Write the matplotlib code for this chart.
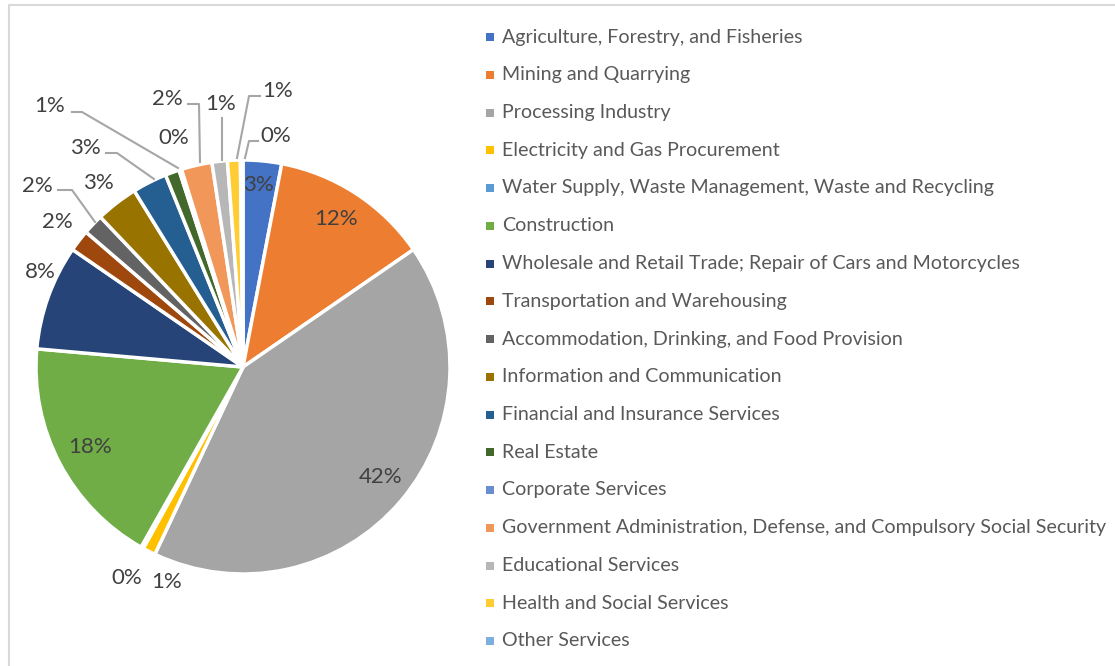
import matplotlib
matplotlib.use("Agg")
import matplotlib.pyplot as plt
from matplotlib.patches import Rectangle

plt.rcParams['font.family'] = ['Lato', 'DejaVu Sans']

# data
sectors = [
    "Agriculture, Forestry, and Fisheries",
    "Mining and Quarrying",
    "Processing Industry",
    "Electricity and Gas Procurement",
    "Water Supply, Waste Management, Waste and Recycling",
    "Construction",
    "Wholesale and Retail Trade; Repair of Cars and Motorcycles",
    "Transportation and Warehousing",
    "Accommodation, Drinking, and Food Provision",
    "Information and Communication",
    "Financial and Insurance Services",
    "Real Estate",
    "Corporate Services",
    "Government Administration, Defense, and Compulsory Social Security",
    "Educational Services",
    "Health and Social Services",
    "Other Services",
]
shares = [3.0, 12.4, 41.6, 1.0, 0.2, 18.2, 8.2, 1.7, 1.6, 3.3, 2.7, 1.1, 0.2, 2.4, 1.2, 1.0, 0.2]
colors = ['#4472C4', '#ED7D31', '#A5A5A5', '#FFC000', '#5B9BD5', '#70AD47',
          '#264478', '#9E480E', '#636363', '#997300', '#255E91', '#43682B',
          '#698ED0', '#F1975A', '#B7B7B7', '#FFCD33', '#7CAFDD']

# label positions in image pixels (x, y from top)
label_pos = [(258, 185), (336, 219), (381, 477), (167, 582), (127, 578), (90, 447),
             (40, 272), (57, 222), (37, 186), (98, 183), (85, 148), (50, 106),
             (174, 138), (167, 99), (221, 104), (278, 91), (276, 136)]
leaders = {
    8: [(58, 190), (72, 190), (95, 222)],
    10: [(106, 153), (117, 153), (154, 179)],
    11: [(72, 112), (82, 112), (178, 168)],
    13: [(188, 104), (199, 104), (200, 162)],
    14: [(222, 118), (222, 160)],
    15: [(260, 96), (249, 96), (237, 158)],
    16: [(258, 141), (249, 141), (245, 158)],
}

W, H = 1115, 666
fig = plt.figure(figsize=(W / 100, H / 100), dpi=100)
ax = fig.add_axes([0, 0, 1, 1])

# chart border
ax.plot([8.5, 8.5, W + 5], [-5, H - 4.5, H - 4.5], color='#d9d9d9', lw=1.5)

ax.pie(shares, colors=colors, startangle=90, counterclock=False,
       center=(243, H - 367), radius=207, frame=True,
       wedgeprops=dict(edgecolor='white', linewidth=2.5))
ax.set_xlim(0, W)
ax.set_ylim(0, H)
ax.axis('off')

for i, v in enumerate(shares):
    x, y = label_pos[i]
    ax.text(x, H - y, f"{round(v)}%", ha='center', va='center',
            fontsize=16, color='#404040')

for i, pts in leaders.items():
    ax.plot([p[0] for p in pts], [H - p[1] for p in pts], color='#a6a6a6', lw=1.5)

# legend
y0, step = 37, 37.75
for i, name in enumerate(sectors):
    y = H - (y0 + i * step)
    ax.add_patch(Rectangle((486, y - 4), 8, 8, color=colors[i], lw=0))
    ax.text(502, y, name, ha='left', va='center', fontsize=14.1, color='#595959')

fig.savefig("out.png", dpi=100)
